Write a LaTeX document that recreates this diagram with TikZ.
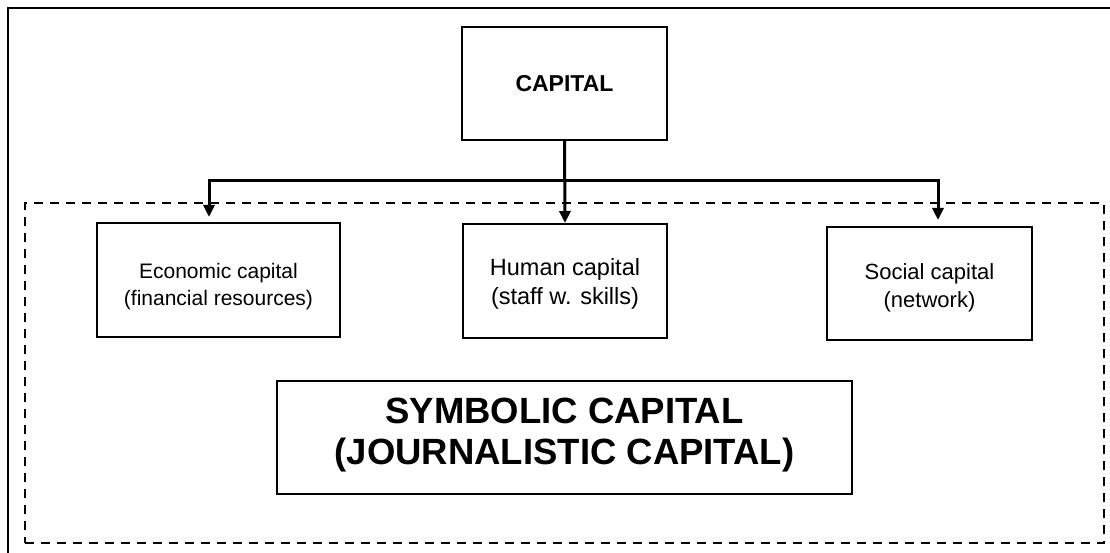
\documentclass[tikz,border=0pt]{standalone}
\usepackage{fontspec}
\setmainfont{Liberation Sans}
\usetikzlibrary{arrows.meta,calc}
\begin{document}
\begin{tikzpicture}[x=1pt,y=-1pt,
  box/.style={draw,line width=2pt,inner sep=0pt,align=center},
  txt/.style={align=center,inner sep=0pt},
  conn/.style={line width=3pt,-{Triangle[length=12pt,width=11pt]}},
  dashbox/.style={draw,line width=2pt,dash pattern=on 9pt off 7pt}]
\useasboundingbox (0,0) rectangle (1110,553);
% outer frame (only left and top edges fall inside the picture)
\draw[line width=2.2pt] (8,560) -- (8,8) -- (1120,8);
% dashed region
\node[dashbox,minimum width=1079pt,minimum height=340pt,inner sep=0pt] (region) at (564.5,373) {};
% top node
\node[box,minimum width=205pt,minimum height=113pt,font=\fontsize{23}{27}\selectfont\bfseries] (cap) at (564.5,83.5) {CAPITAL};
% three kinds of capital
\node[box,minimum width=243pt,minimum height=114pt,
  label={[txt,yshift=-6.5pt,font=\fontsize{21}{26.5}\selectfont]center:{Economic capital\\(financial resources)}}] (econ) at (218.5,280) {};
\node[box,minimum width=204pt,minimum height=114pt,
  label={[txt,yshift=-3pt,font=\fontsize{23.5}{29}\selectfont]center:{Human capital\\(staff w. skills)}}] (human) at (565,281) {};
\node[box,minimum width=205pt,minimum height=113pt,
  label={[txt,yshift=-4pt,font=\fontsize{22}{28}\selectfont]center:{Social capital\\(network)}}] (social) at (929.5,283.5) {};
% symbolic capital
\node[box,minimum width=575pt,minimum height=113pt,
  label={[txt,yshift=2pt,font=\fontsize{36.5}{41}\selectfont\bfseries]center:{SYMBOLIC CAPITAL\\(JOURNALISTIC CAPITAL)}}] (sym) at (564.5,437.5) {};
% connectors
\coordinate (split) at ($(cap.south)+(0,-40pt)$);
\draw[conn] (cap.south) -- (human.north);
\draw[conn] (split) -| ([xshift=-9.5pt,yshift=5pt]econ.north);
\draw[conn] (split) -| ([xshift=8.5pt,yshift=6pt]social.north);
\end{tikzpicture}
\end{document}
